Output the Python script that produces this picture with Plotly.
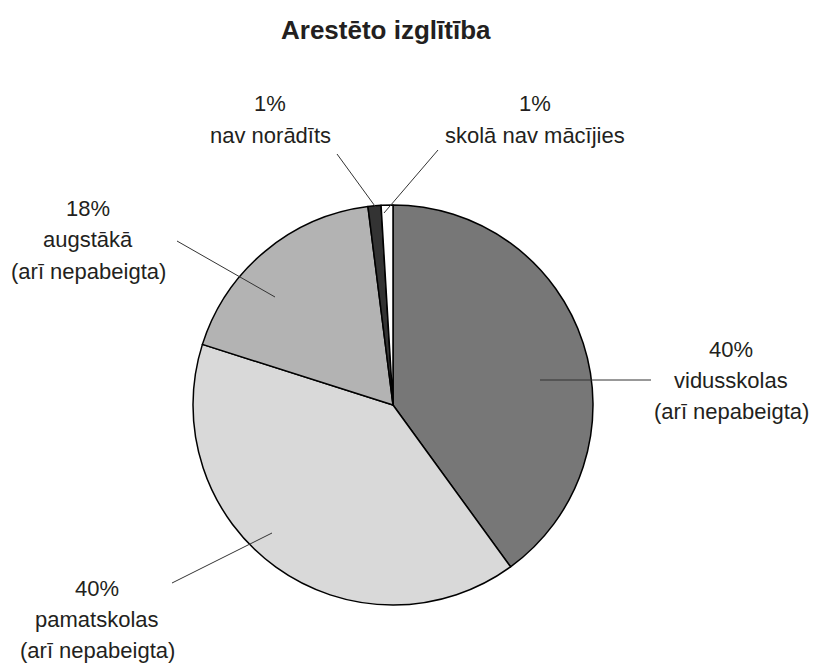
import plotly.graph_objects as go

W, H = 816, 669

# data
categories = ["vidusskolas<br>(arī nepabeigta)",
              "pamatskolas<br>(arī nepabeigta)",
              "augstākā<br>(arī nepabeigta)",
              "nav norādīts",
              "skolā nav mācījies"]
values = [40.0, 39.9, 18.1, 1.05, 0.95]
colors = ["#777777", "#d9d9d9", "#b3b3b3", "#333333", "#ffffff"]

# label layout (pixel positions: x centre, y of first line; leader line ends)
label_pos = [(731, 349), (97, 588), (88, 209), (270, 104), (535, 104)]
LINE_STEP = 31
leaders = [((540, 380), (651, 380)),
           ((272, 533), (172, 583)),
           ((275, 297), (177, 241)),
           ((380, 213), (337, 154)),
           ((384, 213), (438, 150))]

FONT = "Liberation Sans, Arial, sans-serif"

def px(x):
    return x / W

def py(y):
    return 1 - y / H

total = sum(values)
cx, cy, R = 393, 405, 200

fig = go.Figure(go.Pie(
    labels=categories,
    values=values,
    sort=False,
    direction="clockwise",
    rotation=0,
    marker=dict(colors=colors, line=dict(color="#000000", width=1.5)),
    textinfo="none",
    hoverinfo="label+percent",
    showlegend=False,
    domain=dict(x=[px(cx - R), px(cx + R)], y=[py(cy + R), py(cy - R)]),
))

annotations = []
for cat, v, (lx, ly) in zip(categories, values, label_pos):
    pct = round(v / total * 100)
    lines = [f"{pct}%"] + cat.split("<br>")
    for i, t in enumerate(lines):
        annotations.append(dict(
            x=px(lx), y=py(ly + i * LINE_STEP), xref="paper", yref="paper",
            text=t, showarrow=False,
            xanchor="center", yanchor="middle", align="center",
            font=dict(family=FONT, size=22, color="#231f20"),
        ))

annotations.append(dict(
    x=px(386), y=py(30), xref="paper", yref="paper",
    text="<b>Arestēto izglītība</b>", showarrow=False,
    xanchor="center", yanchor="middle",
    font=dict(family=FONT, size=26, color="#231f20"),
))

shapes = []
for (x0, y0), (x1, y1) in leaders:
    shapes.append(dict(type="line", xref="paper", yref="paper",
                       x0=px(x0), y0=py(y0), x1=px(x1), y1=py(y1),
                       line=dict(color="#333333", width=1)))

fig.update_layout(
    width=W, height=H,
    margin=dict(l=0, r=0, t=0, b=0),
    paper_bgcolor="white",
    plot_bgcolor="white",
    annotations=annotations,
    shapes=shapes,
)

fig.write_html(
    "out.html",
    config={"displayModeBar": False},
    post_script="document.body.style.margin='0';document.body.style.overflow='hidden';",
)
